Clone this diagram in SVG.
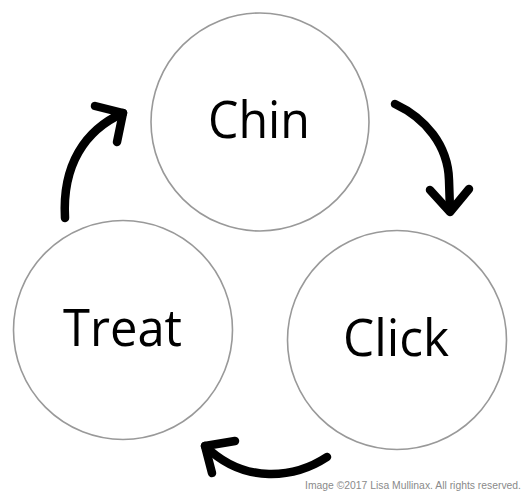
<svg xmlns="http://www.w3.org/2000/svg" width="529" height="496" viewBox="0 0 529 496">
<style>
.node circle{fill:#fff;stroke:#999;stroke-width:1.6}
.node text{font-family:"Open Sans","Noto Sans",sans-serif;font-size:52px;fill:#000}
.conn path{fill:none;stroke:#000;stroke-width:8.5;stroke-linecap:round;stroke-linejoin:round}
.credit{font-family:"Liberation Sans Narrow","Liberation Sans",sans-serif;font-size:10.5px;fill:#8a8a8a}
</style>
<rect width="529" height="496" fill="#fff"/>
<g id="chin" class="node">
<circle cx="260" cy="122" r="109"/>
<text x="208" y="138" textLength="102" lengthAdjust="spacingAndGlyphs">Chin</text>
</g>
<g id="treat" class="node">
<circle cx="123" cy="330" r="109.5"/>
<text x="63" y="346" textLength="119" lengthAdjust="spacingAndGlyphs">Treat</text>
</g>
<g id="click" class="node">
<circle cx="397" cy="340" r="109.5"/>
<text x="343" y="356" textLength="106" lengthAdjust="spacingAndGlyphs">Click</text>
</g>
<g id="connectors" class="conn">
<path d="M395,104 C425,118 448,145 449,180 L450,210"/>
<path d="M430,190 L450,212 L469,189"/>
<path d="M65,218 C62,165 85,130 123,113"/>
<path d="M95,106 L123,113 L117,142"/>
<path d="M327,457 C295,478 245,485 205,446"/>
<path d="M235,441 L205,446 L212,473"/>
</g>
<text class="credit" x="305" y="489" textLength="216" lengthAdjust="spacingAndGlyphs">Image ©2017 Lisa Mullinax. All rights reserved.</text>
</svg>
